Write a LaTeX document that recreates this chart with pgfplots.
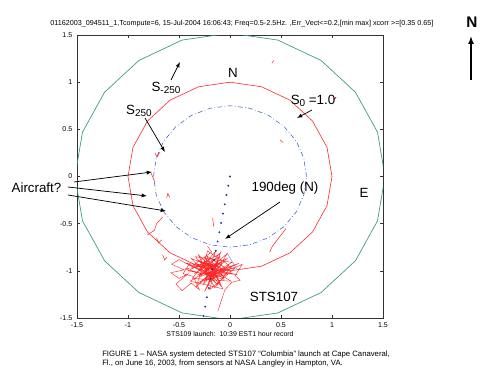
\documentclass[border=0pt]{standalone}
\usepackage{fontspec}
\setmainfont{Liberation Sans}
\usepackage{pgfplots}
\pgfplotsset{compat=1.18}
\usetikzlibrary{arrows.meta}
\definecolor{mgreen}{RGB}{50,160,105}
\definecolor{mred}{RGB}{255,40,40}
\definecolor{mblue}{RGB}{70,100,210}
\definecolor{dblue}{RGB}{30,45,170}
\begin{document}
\begin{tikzpicture}
\path[use as bounding box] (0,0) rectangle (375pt,281.25pt);
\begin{axis}[at={(57.75pt,42.75pt)}, anchor=south west, scale only axis,
  width=229.5pt, height=212.25pt,
  xmin=-1.5, xmax=1.5, ymin=-1.5, ymax=1.5,
  xtick={-1.5,-1,-0.5,0,0.5,1,1.5}, ytick={-1.5,-1,-0.5,0,0.5,1,1.5},
  xticklabels={-1.5,-1,-0.5,0,0.5,1,1.5}, yticklabels={-1.5,-1,-0.5,0,0.5,1,1.5},
  tick align=inside, major tick length=2.5pt,
  ticklabel style={font=\fontsize{5.3}{6}\selectfont},
  axis line style={line width=0.4pt, black!80},
  every tick/.style={black!80, line width=0.4pt},
  clip=true]
% green S_-250
\addplot[mgreen, line width=0.5pt, mark=none] coordinates {
(1.52,0) (1.446,0.470) (1.230,0.893) (0.893,1.230) (0.470,1.446) (0,1.52)
(-0.470,1.446) (-0.893,1.230) (-1.230,0.893) (-1.446,0.470) (-1.52,0)
(-1.446,-0.470) (-1.230,-0.893) (-0.893,-1.230) (-0.470,-1.446) (0,-1.52)
(0.470,-1.446) (0.893,-1.230) (1.230,-0.893) (1.446,-0.470) (1.52,0)};
% red S_0
\addplot[mred, line width=0.45pt, mark=none] coordinates {
(1,0) (0.951,0.309) (0.809,0.588) (0.588,0.809) (0.309,0.951) (0,1)
(-0.309,0.951) (-0.588,0.809) (-0.809,0.588) (-0.951,0.309) (-1,0)
(-0.951,-0.309) (-0.809,-0.588) (-0.588,-0.809) (-0.309,-0.951) (0,-1)
(0.309,-0.951) (0.588,-0.809) (0.809,-0.588) (0.951,-0.309) (1,0)};
% blue S_250 dash-dot
\addplot[mblue, line width=0.45pt, mark=none, dash pattern=on 3.5pt off 1.8pt on 0.6pt off 1.8pt] coordinates {
(0.75,0) (0.724,0.194) (0.650,0.375) (0.530,0.530) (0.375,0.650) (0.194,0.724)
(0,0.75) (-0.194,0.724) (-0.375,0.650) (-0.530,0.530) (-0.650,0.375) (-0.724,0.194)
(-0.75,0) (-0.724,-0.194) (-0.650,-0.375) (-0.530,-0.530) (-0.375,-0.650) (-0.194,-0.724)
(0,-0.75) (0.194,-0.724) (0.375,-0.650) (0.530,-0.530) (0.650,-0.375) (0.724,-0.194) (0.75,0)};
\addplot[mblue!70, line width=0.4pt, mark=none] coordinates {(-0.03,-0.81) (0.07,-0.99)};
% red cluster
\addplot[mred, line width=0.32pt, mark=none] coordinates {
(-0.22,-0.74) (-0.18,-0.80) (-0.36,-0.94) (-0.02,-1.03) (-0.30,-1.12) (0.02,-0.91) (-0.34,-0.85)
(-0.08,-1.17) (-0.24,-0.87) (-0.05,-1.07) (-0.41,-1.00) (-0.10,-0.82) (-0.20,-1.20)
(0.05,-0.97) (-0.31,-1.04) (-0.03,-0.87) (-0.26,-1.14) (-0.14,-0.79) (-0.37,-1.08)
(0.01,-1.11) (-0.29,-0.90) (-0.09,-0.96) (-0.43,-0.92) (-0.16,-1.07) (-0.01,-0.94)
(-0.22,-0.79) (-0.33,-1.17) (-0.07,-0.89) (-0.20,-1.01) (0.07,-1.04) (-0.27,-0.96)
(-0.12,-1.15) (-0.38,-0.87) (-0.05,-1.01) (-0.18,-0.91) (-0.35,-1.03) (-0.10,-0.85)
(-0.24,-1.09) (0.02,-0.95) (-0.15,-1.18) (-0.31,-0.83) (-0.06,-1.09) (-0.44,-0.98)
(-0.12,-0.92) (-0.25,-1.22) (-0.03,-0.82) (-0.19,-0.97) (-0.34,-0.92) (-0.14,-1.03)
(0.09,-0.92) (-0.29,-1.06) (-0.09,-0.80) (-0.21,-1.12) (-0.04,-0.99) (-0.33,-0.89)
(-0.15,-0.95) (-0.39,-1.11) (-0.07,-1.19) (-0.23,-0.84) (0.01,-1.01) (-0.17,-0.88)
(-0.30,-1.00) (-0.10,-1.06) (-0.36,-0.96)};
\addplot[mred, line width=0.32pt, mark=none] coordinates {
(-0.36,-0.96) (-0.50,-0.88) (-0.57,-0.93) (-0.45,-0.99) (-0.58,-1.02) (-0.50,-1.08)
(-0.41,-1.03) (-0.53,-1.14) (-0.47,-1.21) (-0.38,-1.13) (-0.30,-1.20) (-0.36,-1.06)
(-0.46,-1.03) (-0.40,-0.93) (-0.25,-1.00)};
\addplot[mred, line width=0.32pt, mark=none] coordinates {
(-0.05,-1.00) (0.08,-0.95) (0.12,-0.93) (0.05,-1.05) (0.10,-1.10) (0.02,-1.12)
(-0.05,-1.20) (-0.08,-1.30) (-0.12,-1.43)};
% red extra short tracks
\addplot[mred, line width=0.4pt, mark=none] coordinates {(0.41,1.20) (0.43,1.23)};
\addplot[mred, line width=0.8pt, mark=none] coordinates {(1.02,0.82) (1.04,0.84)};
\addplot[mred, line width=0.4pt, mark=none] coordinates {(0.49,0.39) (0.52,0.36)};
\addplot[mred, line width=0.4pt, mark=none] coordinates {(0.55,-0.55) (0.45,-0.69) (0.41,-0.75) (0.39,-0.80)};
\addplot[mred, line width=0.4pt, mark=none] coordinates {(-0.735,0.25) (-0.716,0.205) (-0.686,0.26)};
\addplot[mred, line width=0.4pt, mark=none] coordinates {(-0.78,0.05) (-0.735,-0.06)};
\addplot[mred, line width=0.4pt, mark=none] coordinates {(-0.62,-0.23) (-0.61,-0.18) (-0.59,-0.22)};
\addplot[mred, line width=0.4pt, mark=none] coordinates {(-0.81,-0.62) (-0.74,-0.57) (-0.72,-0.50) (-0.66,-0.43)};
\addplot[mred, line width=0.4pt, mark=none] coordinates {(-0.72,-0.65) (-0.70,-0.705) (-0.67,-0.67)};
\addplot[mred, line width=0.4pt, mark=none] coordinates {(-0.66,-0.83) (-0.64,-0.885) (-0.62,-0.855)};
\addplot[mred, line width=0.4pt, mark=none] coordinates {(-0.17,-0.44) (-0.16,-0.53)};
% blue dots along 190 deg
\addplot[only marks, mark=*, mark size=0.48pt, dblue] coordinates {
(0,0) (-0.017,-0.098) (-0.035,-0.197) (-0.052,-0.295) (-0.069,-0.394) (-0.087,-0.492)
(-0.104,-0.591) (-0.122,-0.689) (-0.139,-0.788) (-0.156,-0.886) (-0.174,-0.985)
(-0.191,-1.083) (-0.208,-1.182) (-0.226,-1.280) (-0.243,-1.379) (-0.260,-1.477)};
\end{axis}
\begin{scope}[x=0.75pt, y=-0.75pt, shift={(0pt,281.25pt)}]
\node[font=\fontsize{5.4}{6}\selectfont, inner sep=0pt] at (242,24) {01162003\_094511\_1,Tcompute=6, 15-Jul-2004 16:06:43; Freq=0.5-2.5Hz. ,Err\_Vect<=0.2,[min max] xcorr >=[0.35 0.65]};
\node[font=\fontsize{5.2}{6}\selectfont, inner sep=0pt] at (230,334) {STS109 launch:\ \ 10:39 EST1 hour record};
\node[font=\fontsize{5.8}{7}\selectfont, inner sep=0pt, anchor=west] at (102,355) {FIGURE 1 -- NASA system detected STS107 “Columbia” launch at Cape Canaveral,};
\node[font=\fontsize{5.8}{7}\selectfont, inner sep=0pt, anchor=west] at (102,363.5) {Fl., on June 16, 2003, from sensors at NASA Langley in Hampton, VA.};
% annotations
\tikzset{ann/.style={font=\fontsize{10}{12}\selectfont, inner sep=0pt}}
\tikzset{arr/.style={-{Latex[length=4pt,width=3pt]}, line width=0.55pt, black}}
\node[ann] at (166,88) {S\raisebox{-0.35ex}{\fontsize{7.5}{8}\selectfont -250}};
\draw[arr] (171,80) -- (180,62);
\node[ann] at (139,111) {S\raisebox{-0.35ex}{\fontsize{7.5}{8}\selectfont 250}};
\draw[arr] (145,118) -- (165,152);
\node[ann] at (233,73) {N};
\node[ann] at (313,101) {S\raisebox{-0.35ex}{\fontsize{7.5}{8}\selectfont 0} =1.0};
\draw[arr] (312,110) -- (297,118);
\node[ann] at (285,188) {190deg (N)};
\draw[arr] (280,202) -- (225,239);
\node[ann] at (364,193) {E};
\node[ann] at (274,297) {STS107};
\node[ann] at (36.5,188) {Aircraft?};
\draw[arr] (74,182) -- (152,172);
\draw[arr] (68,187) -- (147,196);
\draw[arr] (68,195) -- (166,211);
\node[font=\fontsize{11.5}{13}\selectfont\bfseries, inner sep=0pt] at (472,22) {N};
\draw[-{Latex[length=6pt,width=4.5pt]}, line width=1.1pt] (471,80) -- (471,36);
\end{scope}
\end{tikzpicture}
\end{document}
